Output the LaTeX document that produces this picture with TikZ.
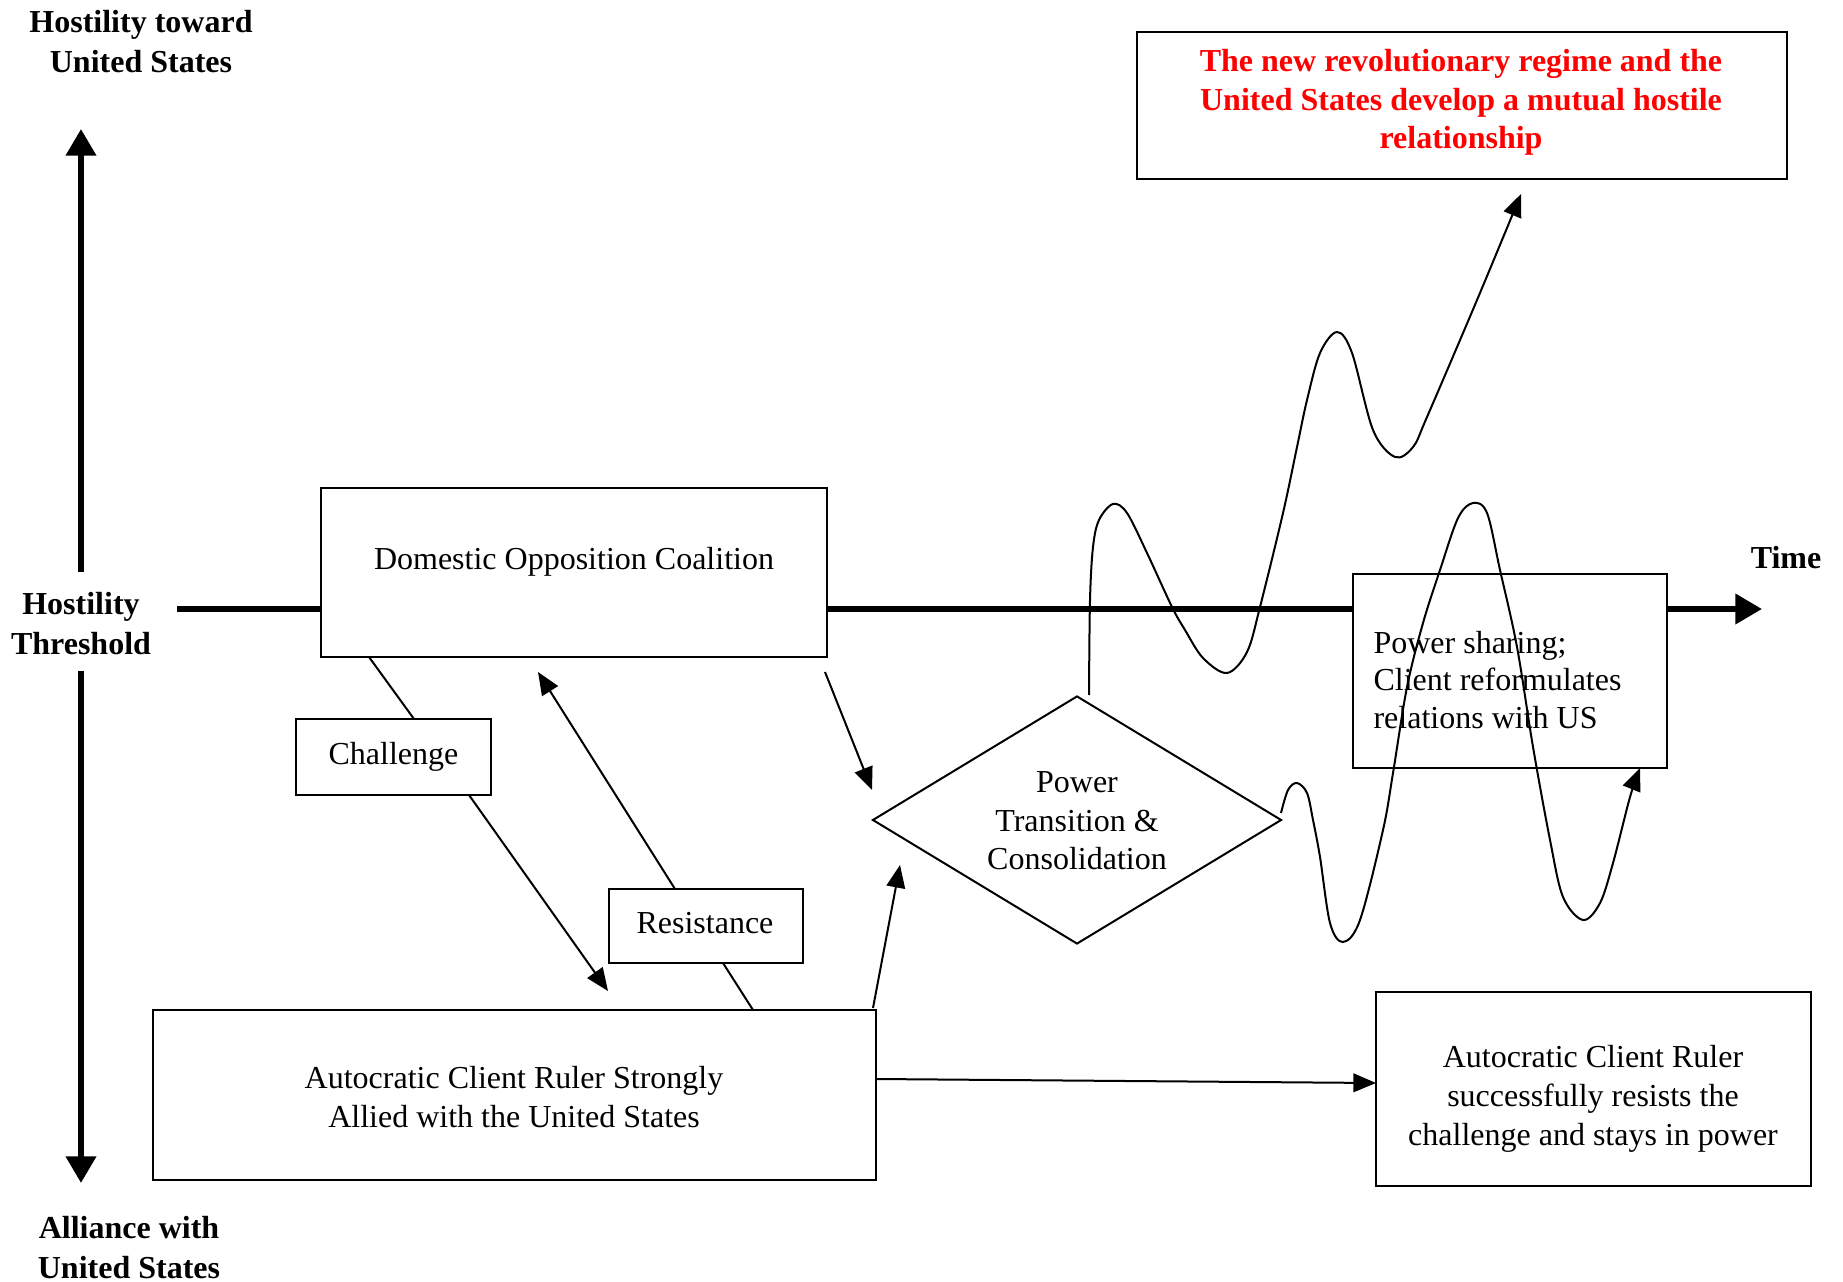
\documentclass[tikz,border=0pt]{standalone}
\usepackage{fontspec}
\setmainfont{Liberation Serif}
\usetikzlibrary{arrows.meta,shapes.geometric}
\begin{document}
\begin{tikzpicture}[x=0.375pt,y=-0.375pt,
  box/.style={draw, line width=0.75pt, fill=white, inner sep=0pt, align=center, font=\fontsize{12}{14.5}\selectfont},
  txt/.style={inner sep=0pt, align=center, font=\fontsize{12}{14.5}\selectfont},
  lbl/.style={inner sep=0pt, align=center, font=\fontsize{12}{15}\selectfont\bfseries},
  conn/.style={line width=0.75pt},
  tip/.style={-{Triangle[length=8.5pt,width=7pt]}},
  arr/.style={line width=0.75pt, tip},
  axis/.style={line width=2.25pt, -{Triangle[length=10pt,width=11pt]}},
  wave/.style={line width=0.75pt, smooth, tension=0.55, tip},
]
\useasboundingbox (0,0) rectangle (1843,1282);

% axis labels
\node[lbl] (hostile) at (141,42) {Hostility toward\\United States};
\node[lbl] (thresh) at (81,624) {Hostility\\Threshold};
\node[lbl] (alliance) at (129,1248) {Alliance with\\United States};
\node[lbl] (time) at (1786,558) {Time};

% axes
\coordinate (axup) at (81,572); \coordinate (axtop) at (81,129);
\coordinate (axdn) at (81,671); \coordinate (axbot) at (81,1183);
\coordinate (th0) at (177,609); \coordinate (th1) at (1762,609);
\draw[axis] (axup) -- (axtop);
\draw[axis] (axdn) -- (axbot);
\draw[axis] (th0) -- (th1);

% boxes
\node[box, minimum width=506*0.375pt, minimum height=169*0.375pt] (dom) at (574,572.5) {};
\node[txt] (domtxt) at (574,562) {Domestic Opposition Coalition};
\node[box, minimum width=195*0.375pt, minimum height=76*0.375pt] (chal) at (393.5,757) {Challenge};
\node[box, minimum width=194*0.375pt, minimum height=74*0.375pt] (res) at (706,926) {};
\node[txt] (restxt) at (705,923) {Resistance};
\node[box, minimum width=723*0.375pt, minimum height=170*0.375pt] (acr) at (514.5,1095) {};
\node[txt] (acrtxt) at (514,1097) {Autocratic Client Ruler Strongly\\Allied with the United States};
\node[box, minimum width=314*0.375pt, minimum height=194*0.375pt] (ps) at (1510,671) {};
\node[txt, anchor=west, align=left, font=\fontsize{12}{14}\selectfont] (pstxt) at (1373,680) {Power sharing;\\Client reformulates\\relations with US};
\node[box, minimum width=650*0.375pt, minimum height=147*0.375pt] (red) at (1462,105.5) {};
\node[txt, text=red, font=\fontsize{12}{14.5}\selectfont\bfseries] (redtxt) at (1461,102.5) {The new revolutionary regime and the\\United States develop a mutual hostile\\relationship};
\node[box, minimum width=435*0.375pt, minimum height=194*0.375pt] (stay) at (1593.5,1089) {};
\node[txt] (staytxt) at (1593,1099) {Autocratic Client Ruler\\successfully resists the\\challenge and stays in power};
\node[draw, diamond, line width=0.75pt, fill=white, aspect=1.65, inner sep=0pt,
      minimum width=409*0.375pt, minimum height=248*0.375pt] (pt) at (1077,820) {};
\node[txt] (pttxt) at (1077,821) {Power\\Transition \&\\Consolidation};

% connector end points
\coordinate (c1a) at (369,657); \coordinate (c1b) at (414,719);
\coordinate (c2a) at (469,795); \coordinate (chaltip) at (608,991);
\coordinate (r1a) at (753,1010); \coordinate (r1b) at (723,963);
\coordinate (r2a) at (675,889); \coordinate (restip) at (538,672);
\coordinate (d1a) at (825,672); \coordinate (d1tip) at (872,790);
\coordinate (a1a) at (873,1008); \coordinate (a1tip) at (900,865);
\coordinate (s1a) at (876,1079); \coordinate (s1tip) at (1376,1083);
\coordinate (w1a) at (1089,695); \coordinate (w1tip) at (1521,194);
\coordinate (w2a) at (1281,813); \coordinate (w2tip) at (1640,768);

% connectors
\draw[conn] (c1a) -- (c1b);
\draw[arr] (c2a) -- (chaltip);
\draw[conn] (r1a) -- (r1b);
\draw[arr] (r2a) -- (restip);
\draw[arr] (d1a) -- (d1tip);
\draw[arr] (a1a) -- (a1tip);
\draw[arr] (s1a) -- (s1tip);

% wavy paths
\draw[wave] plot coordinates {(w1a) (1090,600) (1093,547) (1099,520) (1113,504) (1127,513) (1147,553) (1172,607) (1185,630) (1203,658) (1227,673) (1247,652) (1260,607) (1283,513) (1297,447) (1307,400) (1320,353) (1337,332) (1352,353) (1373,430) (1395,457) (1413,447) (1427,417) (1477,300) (w1tip)};
\draw[wave] plot coordinates {(w2a) (1288,790) (1297,783) (1307,793) (1313,820) (1320,857) (1330,923) (1343,942) (1360,920) (1383,830) (1393,773) (1407,687) (1423,623) (1440,570) (1458,518) (1473,503) (1487,513) (1500,570) (1517,647) (1533,747) (1550,840) (1563,897) (1583,920) (1600,903) (1613,863) (1630,797) (w2tip)};
\end{tikzpicture}
\end{document}
